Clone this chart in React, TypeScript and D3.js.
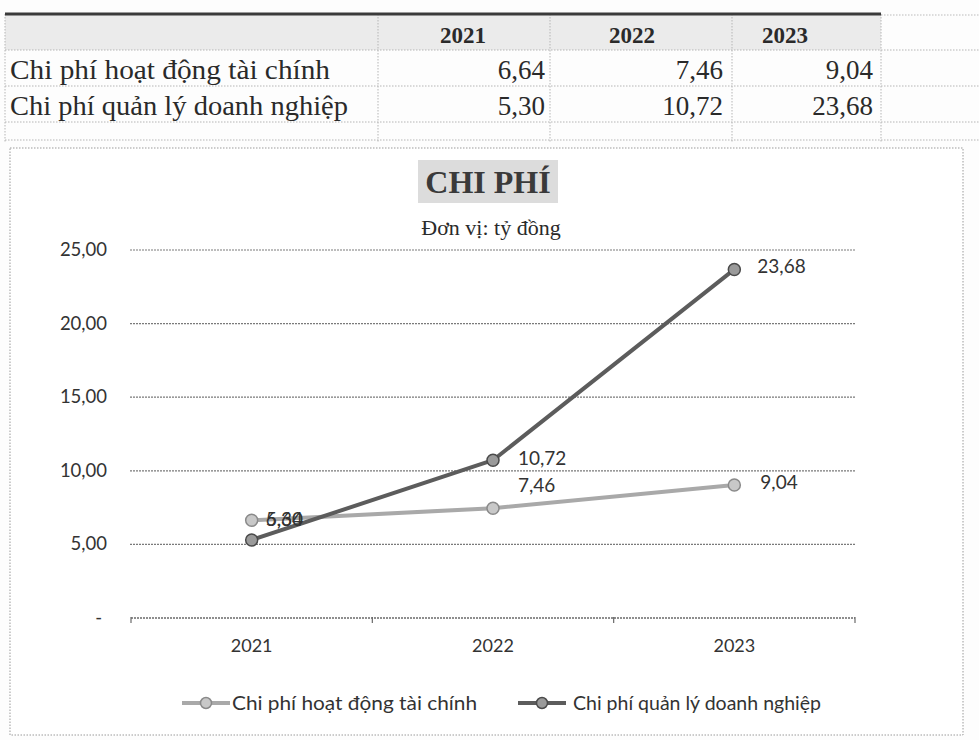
import React from "react";
import * as d3 from "d3";

const years = ["2021", "2022", "2023"];
const rowLabels = ["Chi phí hoạt động tài chính", "Chi phí quản lý doanh nghiệp"];
const finCost = [6.64, 7.46, 9.04];
const admCost = [5.3, 10.72, 23.68];
const yTicks = [0, 5, 10, 15, 20, 25];
const chartTitle = "CHI PHÍ";
const chartSubtitle = "Đơn vị: tỷ đồng";

const fmt = (v: number) => d3.format(".2f")(v).replace(".", ",");
const tickFmt = (v: number) => (v === 0 ? "-" : fmt(v));

const W = 979;
const H = 740;
const serif = "'Liberation Serif', 'Times New Roman', serif";
const sans = "Lato, 'Open Sans', sans-serif";

// label offsets (style only)
const finLabelOff = [
  { dx: 14, dy: 0 },
  { dx: 25, dy: -22 },
  { dx: 26, dy: -2 },
];
const admLabelOff = [
  { dx: 14, dy: -20 },
  { dx: 25, dy: -1 },
  { dx: 23, dy: -2 },
];
const headerCenters = [463, 632, 785];
const valueRight = [545, 723, 873];

export default function App() {
  const x = d3.scaleBand<string>().domain(years).range([131, 855]);
  const y = d3.scaleLinear().domain([0, 25]).range([618, 250]);
  const cx = (yr: string) => (x(yr) as number) + x.bandwidth() / 2;

  const line = d3
    .line<number>()
    .x((_, i) => cx(years[i]))
    .y((d) => y(d));

  const series = [
    { name: rowLabels[0], values: finCost, color: "#a9a9a9", stroke: "#8a8a8a", fill: "#c8c8c8", off: finLabelOff, legW: 245 },
    { name: rowLabels[1], values: admCost, color: "#5c5c5c", stroke: "#4a4a4a", fill: "#9a9a9a", off: admLabelOff, legW: 248 },
  ];

  const colEdges = [5, 378, 550, 732, 881];
  const rowEdges = [14, 50, 86, 122, 140];
  const tableValues = [finCost, admCost];

  return (
    <svg width={W} height={H} style={{ position: "absolute", left: 0, top: 0, background: "#fff" }}>
      <rect x={0} y={0} width={W} height={H} fill="#fdfdfd" />
      {/* table header bg */}
      <rect x={5} y={14} width={876} height={36} fill="#ebebeb" />
      {/* table grid */}
      {rowEdges.slice(1).map((ry, i) => (
        <line key={"h" + i} x1={5} x2={979} y1={ry} y2={ry} stroke="#b5b5b5" strokeDasharray="1.5,1.5" strokeWidth={1} />
      ))}
      {colEdges.map((cxv, i) => (
        <line key={"v" + i} x1={cxv} x2={cxv} y1={14} y2={142} stroke="#b5b5b5" strokeDasharray="1.5,1.5" strokeWidth={1} />
      ))}
      <line x1={5} x2={881} y1={14} y2={14} stroke="#3a3a3a" strokeWidth={3} />
      <line x1={881} x2={979} y1={15} y2={15} stroke="#bbb" strokeDasharray="1.5,1.5" />
      {years.map((yr, i) => (
        <text key={yr} x={headerCenters[i]} y={43} fontFamily={serif} fontWeight="bold" fontSize={23} textAnchor="middle" fill="#2a2a2a" textLength={46} lengthAdjust="spacingAndGlyphs">
          {yr}
        </text>
      ))}
      {rowLabels.map((lab, r) => (
        <g key={lab}>
          <text x={10} y={79 + r * 36} fontFamily={serif} fontSize={28} fill="#2a2a2a" textLength={r === 0 ? 320 : 338} lengthAdjust="spacingAndGlyphs">
            {lab}
          </text>
          {tableValues[r].map((v, c) => (
            <text key={c} x={valueRight[c]} y={79 + r * 36} fontFamily={serif} fontSize={27} textAnchor="end" fill="#2a2a2a">
              {fmt(v)}
            </text>
          ))}
        </g>
      ))}

      {/* chart box */}
      <rect x={10} y={148} width={953} height={587} fill="#fff" stroke="#9a9a9a" strokeDasharray="1.5,1.5" />

      {/* title */}
      <rect x={418} y={160} width={140} height={43} fill="#dcdcdc" />
      <text x={488} y={193} fontFamily={serif} fontWeight="bold" fontSize={32} textAnchor="middle" fill="#3a3a3a">
        {chartTitle}
      </text>
      <text x={491} y={235} fontFamily={serif} fontSize={22} textAnchor="middle" fill="#2a2a2a">
        {chartSubtitle}
      </text>

      {/* gridlines & y labels */}
      {yTicks.map((t) => (
        <g key={t}>
          {t !== 0 && (
            <line x1={130} x2={855} y1={y(t)} y2={y(t)} stroke="#7a7a7a" strokeWidth={1.2} strokeDasharray="2,1" />
          )}
          <text x={t === 0 ? 102 : 107} y={y(t) + 6} fontFamily={sans} fontSize={18.5} textAnchor="end" fill="#333">
            {tickFmt(t)}
          </text>
        </g>
      ))}
      {/* x axis */}
      <line x1={131} x2={855} y1={y(0)} y2={y(0)} stroke="#6a6a6a" strokeWidth={1.3} strokeDasharray="2,1" />
      {[0, 1, 2, 3].map((i) => {
        const xx = 131 + i * x.bandwidth();
        return <line key={i} x1={xx} x2={xx} y1={y(0) - 1} y2={y(0) + 5} stroke="#6a6a6a" strokeWidth={1.2} />;
      })}
      {years.map((yr) => (
        <text key={yr} x={cx(yr)} y={652} fontFamily={sans} fontSize={18} textAnchor="middle" fill="#333">
          {yr}
        </text>
      ))}

      {/* series */}
      {series.map((s) => (
        <g key={s.name}>
          <path d={line(s.values) as string} fill="none" stroke={s.color} strokeWidth={4} strokeLinejoin="round" />
          {s.values.map((v, i) => (
            <circle key={i} cx={cx(years[i])} cy={y(v)} r={6} fill={s.fill} stroke={s.stroke} strokeWidth={1.5} />
          ))}
        </g>
      ))}
      {series.map((s) => (
        <g key={s.name + "lab"}>
          {s.values.map((v, i) => (
            <text key={i} x={cx(years[i]) + s.off[i].dx} y={y(v) + s.off[i].dy + 6} fontFamily={sans} fontSize={19} fill="#333">
              {fmt(v)}
            </text>
          ))}
        </g>
      ))}

      {/* legend */}
      {[
        { s: series[0], x0: 182, tx: 232 },
        { s: series[1], x0: 518, tx: 573 },
      ].map(({ s, x0, tx }) => (
        <g key={s.name + "leg"}>
          <line x1={x0} x2={x0 + 48} y1={703} y2={703} stroke={s.color} strokeWidth={4} />
          <circle cx={x0 + 24} cy={703} r={5.5} fill={s.fill} stroke={s.stroke} strokeWidth={1.5} />
          <text x={tx} y={710} fontFamily={sans} fontSize={20} fill="#333" textLength={s.legW} lengthAdjust="spacingAndGlyphs">
            {s.name}
          </text>
        </g>
      ))}
    </svg>
  );
}
